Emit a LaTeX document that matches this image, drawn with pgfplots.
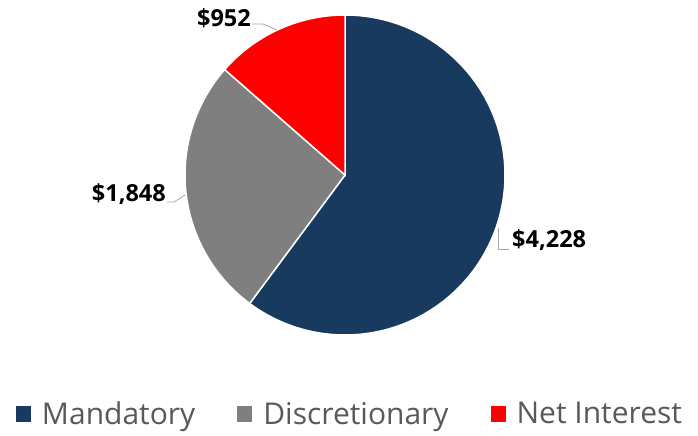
\documentclass[border=0pt]{standalone}
\usepackage{pgfplots}
\pgfplotsset{compat=1.18}
\usepackage{fontspec}
\setmainfont{Open Sans}
\definecolor{mand}{RGB}{23,58,94}
\definecolor{disc}{RGB}{127,127,127}
\definecolor{neti}{RGB}{255,0,0}
\definecolor{legtext}{RGB}{89,89,89}
\definecolor{leader}{RGB}{166,166,166}
\begin{document}
\begin{tikzpicture}
\pgfmathsetmacro{\vA}{4228}
\pgfmathsetmacro{\vB}{1848}
\pgfmathsetmacro{\vC}{952}
\pgfmathsetmacro{\tot}{\vA+\vB+\vC}
\pgfmathsetmacro{\aA}{90-360*(\vA/\tot)}
\pgfmathsetmacro{\aB}{\aA-360*(\vB/\tot)}
\begin{axis}[width=698bp,height=436bp,scale only axis,
  xmin=0,xmax=698,ymin=0,ymax=436,hide axis,clip=false,
  legend image code/.code={\fill[#1,draw=none] (0bp,-7.5bp) rectangle (15bp,7.5bp);},
  legend style={draw=none,fill=none,at={(axis cs:350,22)},anchor=center,
    legend columns=-1,font=\fontsize{30bp}{32bp}\selectfont,text=legtext,
    /tikz/every odd column/.append style={column sep=9bp},
    /tikz/every even column/.append style={column sep=40bp},
    nodes={inner sep=2bp}},
]
\addplot[fill=mand,draw=white,line width=1.5bp,domain=\aA:90,samples=150]
  ({345+160*cos(x)},{261+160*sin(x)}) -- (axis cs:345,261) -- cycle;
\addplot[fill=disc,draw=white,line width=1.5bp,domain=\aB:\aA,samples=80]
  ({345+160*cos(x)},{261+160*sin(x)}) -- (axis cs:345,261) -- cycle;
\addplot[fill=neti,draw=white,line width=1.5bp,domain=-270:\aB,samples=50]
  ({345+160*cos(x)},{261+160*sin(x)}) -- (axis cs:345,261) -- cycle;
\legend{Mandatory,Discretionary,Net Interest}
\addplot[leader,line width=0.8bp,forget plot] coordinates {(252,412) (263,412) (277,406)};
\addplot[leader,line width=0.8bp,forget plot] coordinates {(167,234) (174,234) (185,241)};
\addplot[leader,line width=0.8bp,forget plot] coordinates {(498,208) (498,187) (509,187)};
\node[anchor=base east,inner sep=0pt,font=\fontsize{23.5bp}{26bp}\selectfont\bfseries] at (axis cs:251,409) {\$952};
\node[anchor=base east,inner sep=0pt,font=\fontsize{23.5bp}{26bp}\selectfont\bfseries] at (axis cs:166,234) {\$1,848};
\node[anchor=base west,inner sep=0pt,font=\fontsize{23.5bp}{26bp}\selectfont\bfseries] at (axis cs:512,188) {\$4,228};
\addplot[draw=none,forget plot] coordinates {(0,0) (698,436)};
\end{axis}
\end{tikzpicture}
\end{document}
